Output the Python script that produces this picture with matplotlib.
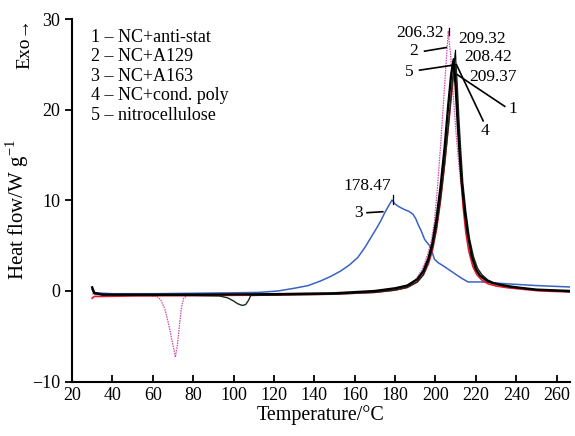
import matplotlib
matplotlib.use("Agg")
import matplotlib.pyplot as plt

plt.rcParams['font.family'] = ['Liberation Serif', 'DejaVu Serif']
plt.rcParams['mathtext.fontset'] = 'custom'
plt.rcParams['mathtext.rm'] = 'Liberation Serif'

# Curve 1: NC+anti-stat (red)
t1 = [30, 31, 35, 50, 80, 120, 150, 170, 180, 186, 191, 194, 196.5, 198.5, 200.5, 202.5, 204.5, 206.5, 208.5,
      209.9, 210.8, 211.7, 212.6, 213.6, 215, 216.5, 218.5, 220.5, 223, 226, 230, 236, 243, 252, 267]
v1 = [-0.8, -0.6, -0.6, -0.55, -0.5, -0.45, -0.35, -0.15, 0.1, 0.4, 1.0, 1.8, 3.0, 4.5, 6.8, 10.0, 14.0, 18.5,
      23.0, 24.8, 21.0, 16.5, 12.8, 9.5, 6.5, 4.4, 2.7, 1.8, 1.2, 0.8, 0.55, 0.35, 0.2, 0.0, -0.1]

# Curve 2: NC+A129 (magenta dotted)
t2 = [30, 32, 40, 55, 62, 64, 66, 68, 70, 71.2, 72.2, 73.2, 74.2, 75.3, 77, 90, 120, 150, 170, 180, 186.3, 190,
      192.9, 194.5, 196.2, 198, 199.5, 201, 202.5, 204, 205.5, 206.32, 207.5, 209, 210.5, 212, 214, 216, 218,
      220, 223, 226, 230, 236, 245, 267]
v2 = [-0.3, -0.4, -0.45, -0.5, -0.6, -1.0, -2.0, -3.8, -6.0, -7.3, -6.0, -3.8, -1.8, -0.8, -0.5, -0.45, -0.4,
      -0.3, -0.1, 0.1, 0.4, 1.2, 2.2, 3.0, 4.1, 5.6, 7.7, 11.5, 16.0, 21.0, 26.0, 28.7, 26.0, 21.0, 16.5, 13.0,
      9.0, 6.0, 4.0, 2.8, 1.7, 1.1, 0.7, 0.4, 0.15, -0.1]

# Curve 3: NC+A163 (blue)
t3 = [30, 31, 40, 60, 80, 100, 113, 122, 130, 137, 143, 148, 153, 157.5, 161.5, 165, 168, 171, 173, 175, 176.5,
      178.47, 180, 182, 184.6, 186.8, 188.8, 190.2, 191.3, 193, 194.6, 196, 197.1, 198.3, 199.5, 201.5, 203.7,
      207, 210.3, 213, 216.1, 222.7, 235, 250, 267]
v3 = [0.2, -0.2, -0.3, -0.3, -0.25, -0.2, -0.15, 0.0, 0.3, 0.6, 1.1, 1.6, 2.2, 2.9, 3.7, 4.8, 5.9, 7.0, 7.8, 8.7,
      9.3, 10.05, 9.6, 9.3, 9.0, 8.8, 8.5, 8.0, 7.4, 6.6, 5.7, 5.3, 5.0, 4.3, 3.5, 3.1, 2.8, 2.3, 1.8, 1.4, 1.0,
      1.0, 0.8, 0.6, 0.44]

# Curve 4: NC+cond. poly (black thin)
t4 = [30, 31, 35, 50, 80, 93, 97, 100, 102, 104.3, 106, 107.5, 108.5, 120, 150, 170, 180, 186, 191, 194, 196.5,
      198.5, 200.5, 202.5, 204.5, 206.5, 208.5, 209.8, 210.7, 211.6, 212.5, 213.5, 215, 216.8, 218.8, 220.8, 223,
      226, 229, 233, 238, 244, 252, 267]
v4 = [0.2, -0.3, -0.4, -0.45, -0.5, -0.55, -0.75, -1.1, -1.4, -1.6, -1.5, -1.0, -0.5, -0.45, -0.35, -0.15, 0.1,
      0.4, 1.0, 1.8, 3.2, 4.8, 7.0, 10.2, 14.0, 18.5, 23.5, 26.3, 23.0, 19.0, 15.5, 12.0, 8.8, 5.8, 3.8, 2.5,
      1.8, 1.2, 0.9, 0.6, 0.4, 0.25, 0.1, -0.1]

# Curve 5: nitrocellulose (black thick)
t5 = [30, 31, 35, 50, 80, 120, 150, 170, 180, 186, 191, 194, 196.5, 198.5, 200.5, 202.5, 204.5, 206.3, 207.8,
      209.0, 210.0, 211.0, 212.0, 213.0, 214.5, 216, 218, 220, 222, 225, 228, 232, 237, 242, 250, 267]
v5 = [0.4, -0.2, -0.4, -0.4, -0.4, -0.35, -0.25, 0.0, 0.3, 0.6, 1.3, 2.2, 3.6, 5.3, 8.0, 11.5, 15.8, 20.5, 24.0,
      25.6, 22.5, 18.5, 15.0, 12.0, 8.8, 6.3, 3.8, 2.4, 1.7, 1.2, 0.9, 0.7, 0.5, 0.35, 0.15, 0.0]

legend_lines = ["1 \u2013 NC+anti-stat", "2 \u2013 NC+A129", "3 \u2013 NC+A163",
                "4 \u2013 NC+cond. poly", "5 \u2013 nitrocellulose"]

x_ticks = [20, 40, 60, 80, 100, 120, 140, 160, 180, 200, 220, 240, 260]
y_ticks = [-10, 0, 10, 20, 30]
y_ticklabels = ['\u221210', '0', '10', '20', '30']

fig = plt.figure(figsize=(5.75, 4.36), dpi=100)
ax = fig.add_axes([0.1252, 0.125, 0.8661, 0.8303])

ax.plot(t3, v3, color='#3a62c4', lw=1.1)
ax.plot(t2, v2, color='#d04aa8', lw=0.9, ls=(0, (1.2, 0.8)))
ax.plot(t1, v1, color='#e8192c', lw=1.2)
ax.plot(t4, v4, color='#1a2a1a', lw=1.0)
ax.plot(t5, v5, color='black', lw=1.7)

ax.set_xlim(20, 266.6)
ax.set_ylim(-10, 30)
ax.set_xticks(x_ticks)
ax.set_yticks(y_ticks)
ax.set_yticklabels(y_ticklabels)
for s in ['top', 'right']:
    ax.spines[s].set_visible(False)
for s in ['left', 'bottom']:
    ax.spines[s].set_linewidth(1.5)
ax.tick_params(axis='x', direction='in', length=5, width=1.3, labelsize=13, pad=4)
ax.tick_params(axis='y', direction='out', length=5, width=1.3, labelsize=13)

ax.set_xlabel('Temperature/\u00b0C', fontsize=14.4, labelpad=1)
ax.set_ylabel('Heat flow/W g$^{\u22121}$', fontsize=15)
ax.yaxis.set_label_coords(-0.082, 0.4765)
ax.text(-0.094, 0.935, 'Exo\u2192', rotation=90, transform=ax.transAxes,
        ha='center', va='center', fontsize=14)

for i, s in enumerate(legend_lines):
    ax.text(0.038, 0.950 - i * 0.0535, s, transform=ax.transAxes, fontsize=13,
            ha='left', va='center')

fs = 12.5
ax.text(166.4, 11.6, '178.47', fontsize=fs, ha='center', va='center')
ax.plot([178.8, 178.8], [9.6, 10.6], color='black', lw=0.9)
ax.text(161.8, 8.65, '3', fontsize=fs, ha='center', va='center')
ax.plot([166.1, 173.9], [8.65, 8.76], color='black', lw=1.2)

ax.text(192.4, 28.5, '206.32', fontsize=fs, ha='center', va='center')
ax.plot([206.6, 206.6], [28.3, 29.1], color='black', lw=0.9)
ax.text(189.1, 26.5, '2', fontsize=fs, ha='center', va='center')
ax.plot([194.6, 205.3], [26.5, 26.9], color='black', lw=1.2)

ax.text(223.2, 27.8, '209.32', fontsize=fs, ha='center', va='center')
ax.text(226.2, 25.9, '208.42', fontsize=fs, ha='center', va='center')
ax.plot([209.6, 209.6], [25.8, 26.6], color='black', lw=0.9)
ax.text(187.1, 24.2, '5', fontsize=fs, ha='center', va='center')
ax.plot([192.1, 210.0], [24.4, 25.0], color='black', lw=1.2)
ax.text(228.4, 23.7, '209.37', fontsize=fs, ha='center', va='center')
ax.text(238.5, 20.1, '1', fontsize=fs, ha='center', va='center')
ax.plot([234.3, 210.8], [20.4, 23.9], color='black', lw=1.2)
ax.text(224.7, 17.7, '4', fontsize=fs, ha='center', va='center')
ax.plot([223.6, 210.4], [18.8, 25.0], color='black', lw=1.2)

fig.savefig('out.png', dpi=100)
